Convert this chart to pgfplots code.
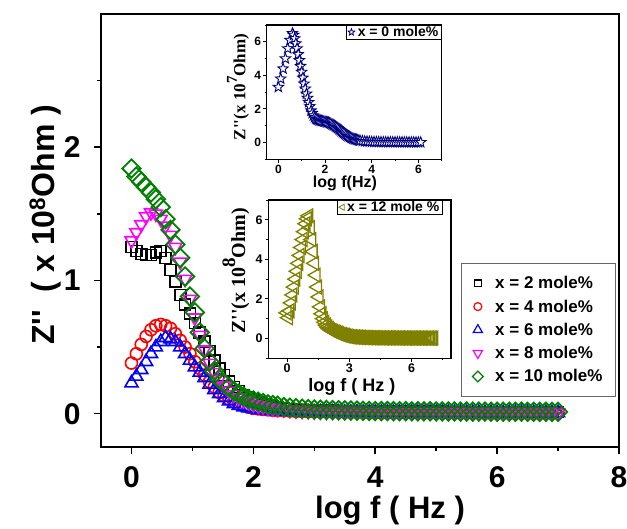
\documentclass[border=0pt]{standalone}
\usepackage{fontspec}
\setmainfont{Liberation Sans}
\newfontfamily\timesfont{Liberation Serif}
\usepackage{pgfplots}
\pgfplotsset{compat=1.18}
\usepackage{pgfplotstable}
\definecolor{dgreen}{RGB}{0,128,0}
\definecolor{navyc}{RGB}{0,0,128}
\definecolor{olivec}{RGB}{128,128,0}
\definecolor{magc}{RGB}{255,0,255}

\pgfdeclareplotmark{ostar}{%
 \pgfpathmoveto{\pgfqpointpolar{90}{\pgfplotmarksize}}%
 \pgfpathlineto{\pgfqpointpolar{126}{0.42\pgfplotmarksize}}%
 \pgfpathlineto{\pgfqpointpolar{162}{\pgfplotmarksize}}%
 \pgfpathlineto{\pgfqpointpolar{198}{0.42\pgfplotmarksize}}%
 \pgfpathlineto{\pgfqpointpolar{234}{\pgfplotmarksize}}%
 \pgfpathlineto{\pgfqpointpolar{270}{0.42\pgfplotmarksize}}%
 \pgfpathlineto{\pgfqpointpolar{306}{\pgfplotmarksize}}%
 \pgfpathlineto{\pgfqpointpolar{342}{0.42\pgfplotmarksize}}%
 \pgfpathlineto{\pgfqpointpolar{18}{\pgfplotmarksize}}%
 \pgfpathlineto{\pgfqpointpolar{54}{0.42\pgfplotmarksize}}%
 \pgfpathclose
 \pgfusepathqfillstroke}

\pgfplotstableread{
x b r u d g
0.00 1.25 0.38 0.23 1.30 1.84
0.08 1.22 0.45 0.28 1.36 1.78
0.16 1.20 0.52 0.33 1.42 1.74
0.24 1.19 0.58 0.39 1.48 1.70
0.32 1.19 0.63 0.45 1.51 1.66
0.40 1.21 0.66 0.50 1.50 1.61
0.48 1.22 0.67 0.54 1.46 1.55
0.56 1.17 0.66 0.57 1.41 1.46
0.64 1.08 0.64 0.56 1.34 1.38
0.72 0.99 0.60 0.54 1.25 1.27
0.80 0.89 0.55 0.50 1.14 1.17
0.88 0.82 0.50 0.45 1.01 1.03
0.96 0.75 0.45 0.40 0.86 0.88
1.04 0.68 0.39 0.35 0.72 0.76
1.12 0.61 0.34 0.31 0.59 0.61
1.20 0.54 0.29 0.27 0.48 0.49
1.28 0.47 0.24 0.22 0.38 0.39
1.36 0.40 0.20 0.18 0.31 0.32
1.44 0.34 0.16 0.15 0.26 0.26
1.52 0.29 0.135 0.12 0.21 0.23
1.60 0.24 0.11 0.095 0.17 0.20
1.68 0.20 0.09 0.075 0.145 0.17
1.76 0.17 0.072 0.06 0.12 0.15
1.84 0.14 0.06 0.05 0.10 0.13
1.92 0.12 0.05 0.043 0.085 0.11
2.00 0.10 0.04 0.036 0.07 0.10
2.08 0.085 0.036 0.031 0.06 0.09
2.16 0.07 0.032 0.027 0.052 0.08
2.24 0.062 0.029 0.024 0.045 0.07
2.32 0.054 0.026 0.021 0.038 0.065
2.40 0.047 0.024 0.02 0.034 0.06
2.5 0.04 0.022 0.018 0.03 0.05
2.6 0.036 0.02 0.016 0.026 0.045
2.7 0.032 0.018 0.015 0.022 0.042
2.8 0.029 0.017 0.014 0.02 0.038
2.9 0.027 0.016 0.013 0.018 0.035
3.0 0.025 0.015 0.012 0.016 0.032
3.1 0.024 0.014 0.012 0.015 0.030
3.2 0.023 0.014 0.012 0.014 0.028
3.3 0.022 0.013 0.011 0.013 0.027
3.4 0.021 0.013 0.011 0.012 0.026
3.5 0.020 0.012 0.010 0.012 0.025
3.6 0.020 0.012 0.010 0.011 0.024
3.7 0.019 0.012 0.010 0.011 0.023
3.8 0.019 0.011 0.009 0.010 0.022
3.9 0.018 0.011 0.009 0.010 0.021
4.0 0.018 0.011 0.009 0.010 0.020
4.1 0.017 0.010 0.009 0.009 0.020
4.2 0.017 0.010 0.009 0.009 0.020
4.3 0.017 0.010 0.008 0.009 0.019
4.4 0.016 0.010 0.008 0.009 0.019
4.5 0.016 0.010 0.008 0.008 0.019
4.6 0.016 0.010 0.008 0.008 0.018
4.7 0.016 0.009 0.008 0.008 0.018
4.8 0.015 0.009 0.008 0.008 0.018
4.9 0.015 0.009 0.008 0.008 0.018
5.0 0.015 0.009 0.007 0.007 0.017
5.1 0.015 0.009 0.007 0.007 0.017
5.2 0.014 0.009 0.007 0.007 0.017
5.3 0.014 0.009 0.007 0.007 0.017
5.4 0.014 0.009 0.007 0.007 0.016
5.5 0.014 0.009 0.007 0.006 0.016
5.6 0.014 0.009 0.007 0.006 0.016
5.7 0.013 0.008 0.007 0.006 0.016
5.8 0.013 0.008 0.007 0.006 0.016
5.9 0.013 0.008 0.007 0.006 0.015
6.0 0.013 0.008 0.006 0.006 0.015
6.1 0.013 0.008 0.006 0.006 0.015
6.2 0.013 0.008 0.006 0.005 0.015
6.3 0.012 0.008 0.006 0.005 0.015
6.4 0.012 0.008 0.006 0.005 0.015
6.5 0.012 0.008 0.006 0.005 0.014
6.6 0.012 0.008 0.006 0.005 0.014
6.7 0.012 0.008 0.006 0.005 0.014
6.8 0.012 0.008 0.006 0.005 0.014
6.9 0.012 0.008 0.006 0.005 0.014
7.0 0.012 0.008 0.006 0.005 0.014
}\maindata

\pgfplotstableread{
x y
0.0 3.3
0.1 3.8
0.2 4.4
0.3 5.0
0.4 5.6
0.5 6.1
0.6 6.5
0.65 6.4
0.7 6.2
0.75 5.9
0.8 5.6
0.85 5.25
0.9 4.9
0.95 4.55
1.0 4.2
1.05 3.85
1.1 3.5
1.15 3.2
1.2 2.9
1.25 2.65
1.3 2.4
1.35 2.15
1.4 1.9
1.45 1.75
1.5 1.6
1.55 1.5
1.6 1.42
1.65 1.38
1.7 1.35
1.75 1.32
1.8 1.3
1.85 1.28
1.9 1.27
1.95 1.25
2.0 1.24
2.05 1.22
2.1 1.2
2.15 1.18
2.2 1.15
2.25 1.12
2.3 1.08
2.35 1.04
2.4 1.0
2.45 0.95
2.5 0.9
2.55 0.85
2.6 0.79
2.65 0.73
2.7 0.67
2.75 0.61
2.8 0.56
2.85 0.51
2.9 0.46
2.95 0.41
3.0 0.37
3.05 0.33
3.1 0.29
3.15 0.26
3.2 0.23
3.25 0.2
3.3 0.18
3.35 0.16
3.4 0.14
3.45 0.12
3.5 0.11
3.6 0.09
3.7 0.07
3.8 0.06
3.9 0.05
4.0 0.04
4.1 0.035
4.2 0.032
4.3 0.03
4.4 0.028
4.5 0.026
4.6 0.024
4.7 0.022
4.8 0.021
4.9 0.02
5.0 0.019
5.1 0.018
5.2 0.017
5.3 0.016
5.4 0.015
5.5 0.014
5.6 0.013
5.7 0.012
5.8 0.012
5.9 0.011
6.0 0.011
6.1 0.01
}\zerodata

\pgfplotstableread{
x y
0.00 1.30
0.07 1.05
0.14 1.40
0.21 1.80
0.28 2.20
0.35 2.60
0.42 3.00
0.49 3.40
0.56 3.80
0.63 4.20
0.70 4.60
0.77 5.00
0.84 5.40
0.91 5.80
0.98 6.05
1.05 6.20
1.12 5.60
1.19 5.00
1.26 4.40
1.33 3.80
1.40 3.20
1.47 2.60
1.54 2.10
1.61 1.60
1.68 1.25
1.75 1.00
1.82 0.82
1.89 0.68
1.96 0.58
2.03 0.50
2.10 0.44
2.17 0.40
2.24 0.36
2.31 0.33
2.38 0.30
2.45 0.27
2.52 0.24
2.59 0.21
2.66 0.19
2.73 0.17
2.80 0.15
2.87 0.13
2.94 0.12
3.01 0.10
3.08 0.09
3.15 0.085
3.22 0.08
3.29 0.075
3.36 0.07
3.43 0.065
3.50 0.06
3.57 0.057
3.64 0.054
3.71 0.051
3.78 0.048
3.85 0.046
3.92 0.044
3.99 0.042
4.06 0.04
4.13 0.039
4.20 0.038
4.27 0.037
4.34 0.036
4.41 0.035
4.48 0.034
4.55 0.033
4.62 0.032
4.69 0.031
4.76 0.03
4.83 0.03
4.90 0.029
4.97 0.029
5.04 0.028
5.11 0.028
5.18 0.027
5.25 0.027
5.32 0.026
5.39 0.026
5.46 0.025
5.53 0.025
5.60 0.025
5.67 0.024
5.74 0.024
5.81 0.024
5.88 0.023
5.95 0.023
6.02 0.023
6.09 0.022
6.16 0.022
6.23 0.022
6.30 0.021
6.37 0.021
6.44 0.021
6.51 0.02
6.58 0.02
6.65 0.02
6.72 0.02
6.79 0.02
6.86 0.02
6.93 0.02
7.00 0.02
7.07 0.02
}\twelvedata

\begin{document}
\begin{tikzpicture}[x=1pt,y=1pt]
\useasboundingbox (0,0) rectangle (627,528);
% main axis
\begin{axis}[
  at={(101pt,81pt)}, anchor=south west,
  scale only axis, width=518pt, height=433pt,
  xmin=-0.5, xmax=8, ymin=-0.25, ymax=3,
  xtick={0,2,4,6,8}, minor xtick={1,3,5,7},
  ytick={0,1,2}, minor ytick={0.5,1.5,2.5},
  xtick pos=bottom, ytick pos=left, tick align=outside,
  major tick length=7pt, minor tick length=4pt,
  every tick/.style={black, line width=1.5pt},
  axis line style={line width=2pt},
  /pgf/number format/assume math mode=true,
  ticklabel style={font=\fontsize{30}{30}\selectfont\bfseries},
  xticklabel style={yshift=-9pt},
  yticklabel style={xshift=-10pt},
  xlabel={\bfseries log f ( Hz )},
  ylabel={\bfseries Z\textquotesingle\textquotesingle~~( x 10\textsuperscript{8}Ohm )},
  xlabel style={at={(axis description cs:0.558,-0.147)}, anchor=center, font=\fontsize{31}{31}\selectfont},
  ylabel style={at={(axis description cs:-0.108,0.513)}, anchor=center, rotate=0, font=\fontsize{32}{32}\selectfont},
  legend style={at={(axis description cs:0.994,0.425)}, anchor=north east,
    draw=black!60, line width=0.8pt, font=\fontsize{17}{17}\selectfont\bfseries,
    inner xsep=11pt, inner ysep=11pt, nodes={inner sep=2pt}, row sep=5.5pt, column sep=10pt},
  legend cell align=left,
]
\addplot[forget plot, only marks, black, mark=square, mark size=5.5pt, mark options={line width=1.6pt, fill=white}] table[x=x,y=b]{\maindata};
\addplot[forget plot, only marks, red, mark=o, mark size=6pt, mark options={line width=1.6pt, fill=white}] table[x=x,y=r]{\maindata};
\addplot[forget plot, only marks, blue, mark=triangle, mark size=7.5pt, mark options={line width=1.6pt, fill=white}] table[x=x,y=u]{\maindata};
\addplot[forget plot, only marks, magc, mark=triangle, mark size=7.5pt, mark options={line width=1.6pt, fill=white, rotate=180}] table[x=x,y=d]{\maindata};
\addplot[forget plot, only marks, dgreen, mark=square, mark size=6.5pt, mark options={line width=1.8pt, fill=white, rotate=45}] table[x=x,y=g]{\maindata};
\addlegendimage{only marks, black, mark=square, mark size=3.3pt, mark options={line width=1.2pt}}
\addlegendentry{x = 2 mole\%}
\addlegendimage{only marks, red, mark=o, mark size=4pt, mark options={line width=1.2pt}}
\addlegendentry{x = 4 mole\%}
\addlegendimage{only marks, blue, mark=triangle, mark size=5.3pt, mark options={line width=1.2pt}}
\addlegendentry{x = 6 mole\%}
\addlegendimage{only marks, magc, mark=triangle, mark size=5.3pt, mark options={line width=1.2pt, rotate=180}}
\addlegendentry{x = 8 mole\%}
\addlegendimage{only marks, dgreen, mark=square, mark size=3.8pt, mark options={line width=1.2pt, rotate=45}}
\addlegendentry{x = 10 mole\%}
\end{axis}

% inset 1
\begin{axis}[
  at={(266.7pt,368.7pt)}, anchor=south west,
  scale only axis, width=175pt, height=134.3pt,
  xmin=-0.5, xmax=7, ymin=-1, ymax=7,
  xtick={0,2,4,6}, minor xtick={1,3,5,7},
  ytick={0,2,4,6}, minor ytick={-1,1,3,5,7},
  xtick pos=bottom, ytick pos=left, tick align=outside,
  major tick length=3.5pt, minor tick length=2pt,
  every tick/.style={black, line width=0.9pt},
  axis line style={line width=1.2pt},
  /pgf/number format/assume math mode=true,
  ticklabel style={font=\fontsize{12}{12}\selectfont\bfseries, inner sep=2pt},
  xlabel={\bfseries log f(Hz)},
  ylabel={\timesfont\bfseries Z\textquotesingle\textquotesingle(x 10\raisebox{0.5em}{\fontsize{15}{15}\selectfont 7}Ohm)},
  xlabel style={at={(axis description cs:0.447,-0.176)}, anchor=center, font=\fontsize{16}{16}\selectfont},
  ylabel style={at={(axis description cs:-0.164,0.538)}, anchor=center, rotate=0, font=\fontsize{17}{17}\selectfont},
  legend style={at={(axis description cs:1,1)}, anchor=north east,
    draw=black, line width=0.8pt, font=\fontsize{14}{14}\selectfont\bfseries,
    inner xsep=2pt, inner ysep=0pt, nodes={inner sep=1pt}, column sep=2pt},
]
\addplot[forget plot, only marks, navyc, mark=ostar, mark size=5.5pt, mark options={line width=0.9pt, fill=white}] table[x=x,y=y]{\zerodata};
\addlegendimage{only marks, navyc, mark=ostar, mark size=3.5pt, mark options={line width=0.8pt, fill=white}}
\addlegendentry{x = 0 mole\%}
\end{axis}

% inset 2
\begin{axis}[
  at={(268.3pt,169.7pt)}, anchor=south west,
  scale only axis, width=182.7pt, height=158.3pt,
  xmin=-0.9, xmax=7.9, ymin=-1, ymax=7,
  xtick={0,3,6}, minor xtick={1.5,4.5,7.5},
  ytick={0,2,4,6}, minor ytick={-1,1,3,5,7},
  xtick pos=bottom, ytick pos=left, tick align=outside,
  major tick length=3.5pt, minor tick length=2pt,
  every tick/.style={black, line width=0.9pt},
  axis line style={line width=1.2pt},
  /pgf/number format/assume math mode=true,
  ticklabel style={font=\fontsize{12.5}{12.5}\selectfont\bfseries, inner sep=2pt},
  xlabel={\bfseries log f ( Hz )},
  ylabel={\timesfont\bfseries Z\textquotesingle\textquotesingle(x 10\raisebox{0.5em}{\fontsize{19}{19}\selectfont 8}Ohm)},
  xlabel style={at={(axis description cs:0.458,-0.181)}, anchor=center, font=\fontsize{18}{18}\selectfont},
  ylabel style={at={(axis description cs:-0.177,0.551)}, anchor=center, rotate=0, font=\fontsize{20}{20}\selectfont},
  legend style={at={(axis description cs:0.955,1)}, anchor=north east,
    draw=black, line width=0.8pt, font=\fontsize{14}{14}\selectfont\bfseries,
    inner xsep=2pt, inner ysep=0pt, nodes={inner sep=1pt}, column sep=2pt},
]
\addplot[forget plot, only marks, olivec, mark=triangle, mark size=8pt, mark options={line width=1.3pt, fill=white, rotate=90}] table[x=x,y=y]{\twelvedata};
\addlegendimage{only marks, olivec, mark=triangle, mark size=3.5pt, mark options={line width=0.8pt, rotate=90}}
\addlegendentry{x = 12 mole \%}
\end{axis}
\end{tikzpicture}
\end{document}
